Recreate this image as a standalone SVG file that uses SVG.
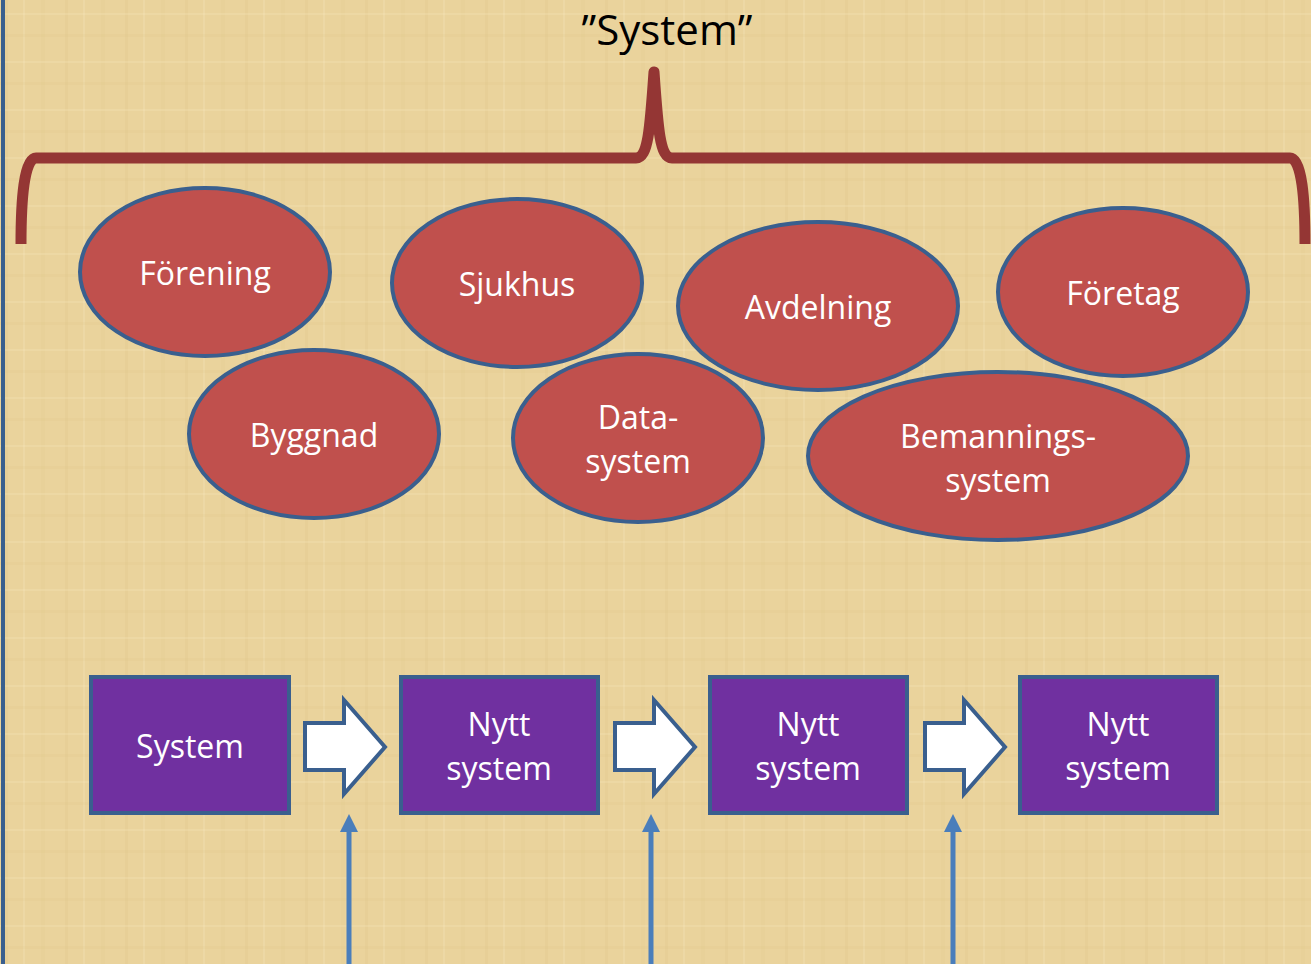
<svg xmlns="http://www.w3.org/2000/svg" width="1311" height="964" viewBox="0 0 1311 964">
<style>
.ell{fill:#C0504D;stroke:#3A5F8E;stroke-width:4}
.box{fill:#7030A0;stroke:#3A5F8E;stroke-width:4}
.blk{fill:#FFFFFF;stroke:#3A5F8E;stroke-width:4;stroke-linejoin:miter}
.t{font-family:"Open Sans","Noto Sans","Liberation Sans",sans-serif;font-size:32px;fill:#FFFFFF;text-anchor:middle}
.title{font-family:"Open Sans","Noto Sans","Liberation Sans",sans-serif;font-size:42px;fill:#000000;text-anchor:middle}
.brace{fill:none;stroke:#943634;stroke-width:11;stroke-linecap:butt;stroke-linejoin:round}
.up{stroke:#4A7EBB;stroke-width:5;fill:none}
.ahd{fill:#4A7EBB}
</style>
<defs>
<pattern id="pap" width="60" height="48" patternUnits="userSpaceOnUse">
<rect width="60" height="48" fill="#EAD39C"/>
<rect x="5" y="0" width="3" height="48" fill="#D9BE7E" opacity="0.18"/>
<rect x="23" y="0" width="2" height="48" fill="#F6E6BA" opacity="0.3"/>
<rect x="41" y="0" width="4" height="48" fill="#DCC285" opacity="0.15"/>
<rect x="0" y="13" width="60" height="2" fill="#F6E6BA" opacity="0.25"/>
<rect x="0" y="34" width="60" height="3" fill="#D9BE7E" opacity="0.12"/>
</pattern>
</defs>
<rect width="1311" height="964" fill="url(#pap)"/>
<line x1="3" y1="0" x2="3" y2="964" stroke="#3A5F8E" stroke-width="4"/>

<text class="title" x="667" y="45">”System”</text>
<path class="brace" d="M21,244 C21,200 24,158 36,158 L636,158 C648,158 650,130 654,72 C658,130 660,158 672,158 L1290,158 C1302,158 1305,200 1305,244"/>

<g id="n-forening"><ellipse class="ell" cx="205" cy="272" rx="125" ry="84"/><text class="t" x="205" y="285">Förening</text></g>
<g id="n-sjukhus"><ellipse class="ell" cx="517" cy="283" rx="125" ry="84"/><text class="t" x="517" y="296">Sjukhus</text></g>
<g id="n-avdelning"><ellipse class="ell" cx="818" cy="306" rx="140" ry="84"/><text class="t" x="818" y="319">Avdelning</text></g>
<g id="n-foretag"><ellipse class="ell" cx="1123" cy="292" rx="125" ry="84"/><text class="t" x="1123" y="305">Företag</text></g>
<g id="n-byggnad"><ellipse class="ell" cx="314" cy="434" rx="125" ry="84"/><text class="t" x="314" y="447">Byggnad</text></g>
<g id="n-datasystem"><ellipse class="ell" cx="638" cy="438" rx="125" ry="84"/><text class="t" x="638" y="429">Data-</text><text class="t" x="638" y="473">system</text></g>
<g id="n-bemanning"><ellipse class="ell" cx="998" cy="456" rx="190" ry="84"/><text class="t" x="998" y="448">Bemannings-</text><text class="t" x="998" y="492">system</text></g>

<g id="n-system"><rect class="box" x="91" y="677" width="198" height="136"/><text class="t" x="190" y="758">System</text></g>
<g id="n-nytt1"><rect class="box" x="401" y="677" width="197" height="136"/><text class="t" x="499" y="736">Nytt</text><text class="t" x="499" y="780">system</text></g>
<g id="n-nytt2"><rect class="box" x="710" y="677" width="197" height="136"/><text class="t" x="808" y="736">Nytt</text><text class="t" x="808" y="780">system</text></g>
<g id="n-nytt3"><rect class="box" x="1020" y="677" width="197" height="136"/><text class="t" x="1118" y="736">Nytt</text><text class="t" x="1118" y="780">system</text></g>

<g id="connectors">
<path class="blk" d="M305,723 L344,723 L344,700 L385,747 L344,794 L344,770 L305,770 Z"/>
<path class="blk" d="M615,723 L654,723 L654,700 L695,747 L654,794 L654,770 L615,770 Z"/>
<path class="blk" d="M925,723 L964,723 L964,700 L1005,747 L964,794 L964,770 L925,770 Z"/>
<line class="up" x1="349" y1="964" x2="349" y2="830"/>
<path class="ahd" d="M349,814 L358,832 L340,832 Z"/>
<line class="up" x1="651" y1="964" x2="651" y2="830"/>
<path class="ahd" d="M651,814 L660,832 L642,832 Z"/>
<line class="up" x1="953" y1="964" x2="953" y2="830"/>
<path class="ahd" d="M953,814 L962,832 L944,832 Z"/>
</g>
</svg>
